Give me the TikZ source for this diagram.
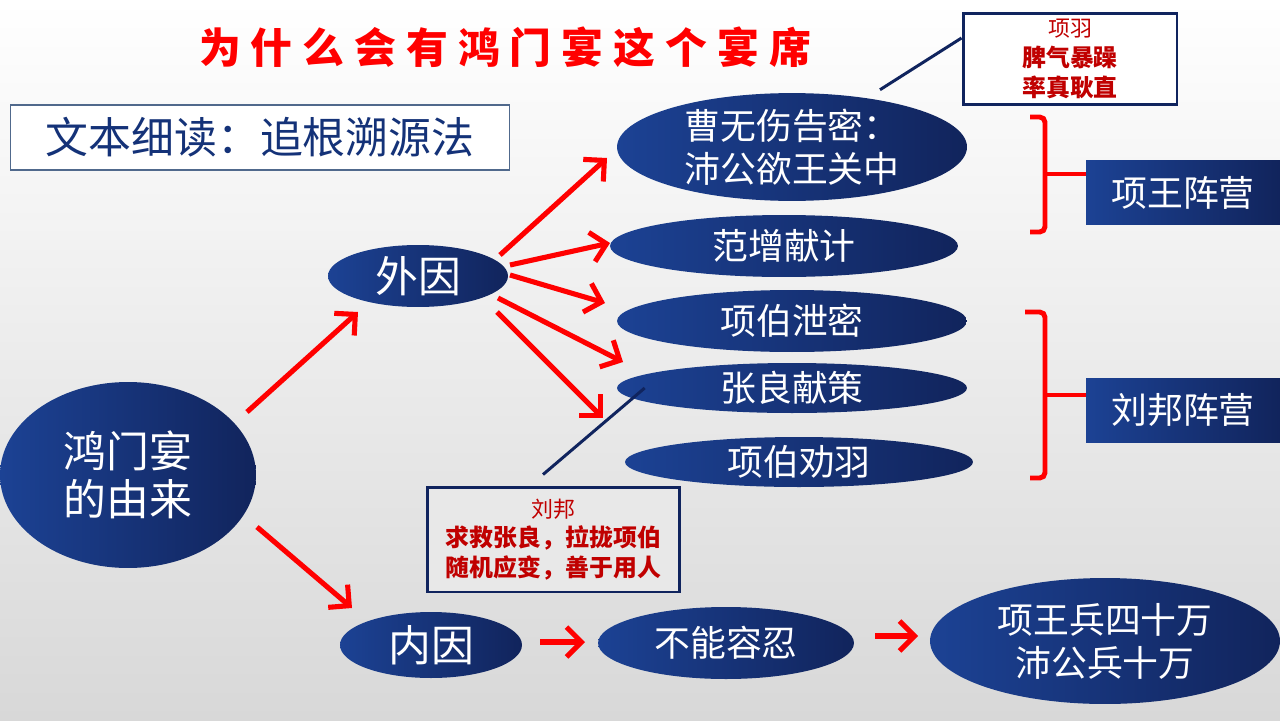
\documentclass[tikz,border=0pt]{standalone}
\usepackage{fontspec}
\setmainfont{Noto Sans CJK SC}
\usetikzlibrary{shapes.geometric,arrows.meta,calc}
\definecolor{navy}{RGB}{16,36,94}
\definecolor{blueL}{RGB}{28,66,148}
\definecolor{blueR}{RGB}{17,36,92}
\definecolor{redA}{RGB}{255,0,0}
\definecolor{dred}{RGB}{192,0,0}
\definecolor{bgbot}{RGB}{216,216,216}
\definecolor{tblue}{RGB}{20,50,120}
\definecolor{tborder}{RGB}{80,105,140}
\definecolor{lbfill}{RGB}{232,232,232}
\newcommand\fBig{\fontsize{24.4pt}{27.2pt}\selectfont}
\newcommand\fMid{\fontsize{20.4pt}{24.4pt}\selectfont}
\newcommand\fSm{\fontsize{13.6pt}{17pt}\selectfont}
\newcommand\fXs{\fontsize{12.5pt}{17pt}\selectfont}
\newcommand\fTitle{\fontsize{23.8pt}{27pt}\selectfont}
\newcommand\tsp{\hspace{5.7pt}}
\begin{document}
\begin{tikzpicture}[x=0.02cm,y=-0.02cm,
  ell/.style={ellipse, inner sep=0pt, left color=blueL, right color=blueR, text=white, align=center},
  arr/.style={draw=redA, line width=2.9pt, -{Straight Barb[length=8.5pt,width=17pt]}},
  camp/.style={rectangle, inner sep=0pt, left color=blueL, right color=blueR, text=white, minimum width=3.88cm, font=\fMid},
  callout/.style={draw=navy, line width=1.7pt},
  brk/.style={draw=redA, line width=2.8pt, rounded corners=3pt},
  note/.style={rectangle, draw=navy, line width=1.7pt, inner sep=0pt, align=center, text=dred, font=\fSm}]
\useasboundingbox (0,0) rectangle (1280,720);
\shade[top color=white, bottom color=bgbot] (0,0) rectangle (1280,720);

% title
\node[text=redA, font=\fTitle\bfseries] (title) at (505,47) {为\tsp 什\tsp 么\tsp 会\tsp 有\tsp 鸿\tsp 门\tsp 宴\tsp 这\tsp 个\tsp 宴\tsp 席};

% method box
\node[rectangle, draw=tborder, line width=0.6pt, fill=white, inner sep=0pt,
  minimum width=10cm, minimum height=1.3cm, text=tblue, font=\fBig] (method) at (260,137.5) {文本细读：追根溯源法};

% ellipses
\node[ell, minimum width=5.12cm, minimum height=3.72cm, font=\fBig] (big) at (128,475) {鸿门宴\\的由来};
\node[ell, minimum width=3.6cm, minimum height=1.24cm, font=\fBig] (wai) at (418,276) {外因};
\node[ell, minimum width=3.64cm, minimum height=1.32cm, font=\fBig] (nei) at (431,645) {内因};
\node[ell, minimum width=7cm, minimum height=2.04cm, font=\fMid] (cao) at (792,147) {曹无伤告密：\\沛公欲王关中};
\node[ell, minimum width=6.96cm, minimum height=1.24cm, font=\fMid] (fan) at (784,246) {范增献计};
\node[ell, minimum width=7cm, minimum height=1.24cm, font=\fMid] (xbx) at (792,321) {项伯泄密};
\node[ell, minimum width=7cm, minimum height=1.0cm, font=\fMid] (zl) at (792,388) {张良献策};
\node[ell, minimum width=6.96cm, minimum height=1.0cm, font=\fMid] (xbq) at (799,462) {项伯劝羽};
\node[ell, minimum width=5.12cm, minimum height=1.44cm, font=\fMid] (bnr) at (726,643) {不能容忍};
\node[ell, minimum width=7cm, minimum height=2.52cm, font=\fMid] (bing) at (1105,641) {项王兵四十万\\沛公兵十万};

% camp boxes
\node[camp, minimum height=1.3cm] (xw) at (1183,192.5) {项王阵营};
\node[camp, minimum height=1.28cm] (lb) at (1183,410) {刘邦阵营};

% note boxes
\node[note, fill=white, minimum width=4.28cm, minimum height=1.84cm] (xybox) at (1070,59)
  {{\fXs 项羽}\\\bfseries 脾气暴躁\\\bfseries 率真耿直};
\node[note, fill=lbfill, minimum width=5.06cm, minimum height=2.1cm] (lbbox) at (553.5,539.5)
  {{\fXs 刘邦}\\\bfseries 求救张良，拉拢项伯\\\bfseries 随机应变，善于用人};

% callout lines
\draw[callout] ($(xybox.west)+(0,-21)$) -- ($(cao.north)+(88,-3)$);
\draw[callout] ($(lbbox.north)+(-10.5,-11)$) -- ($(zl.west)+(28,0)$);

% red arrows
\draw[arr] ($(big)+(119,-63)$) -- ($(wai)+(-60,36)$);
\draw[arr] ($(wai)+(82,-21)$) -- ($(cao)+(-185,11)$);
\draw[arr] ($(wai)+(92,-11)$) -- ($(fan)+(-174,-3)$);
\draw[arr] ($(wai)+(92,-1)$) -- ($(xbx)+(-187,-18)$);
\draw[arr] ($(wai)+(80,22)$) -- ($(zl)+(-169,-26)$);
\draw[arr] ($(wai)+(79,36)$) -- ($(xbq)+(-196,-44)$);
\draw[arr] ($(big)+(129,52)$) -- ($(nei)+(-79,-37)$);
\draw[arr] ($(nei)+(109,-3)$) -- ($(bnr)+(-141,-1)$);
\draw[arr] ($(bnr)+(149,-7)$) -- ($(bing)+(-187,-5)$);

% brackets
\coordinate (bu) at (1045,174);
\coordinate (bl) at (1045,395);
\draw[brk] (1030,117) -- (1045,117) -- (1045,232) -- (1030,232);
\draw[brk] (bu) -- (bu -| xw.west);
\draw[brk] (1025,312) -- (1045,312) -- (1045,478) -- (1030,478);
\draw[brk] (bl) -- (bl -| lb.west);
\end{tikzpicture}
\end{document}
